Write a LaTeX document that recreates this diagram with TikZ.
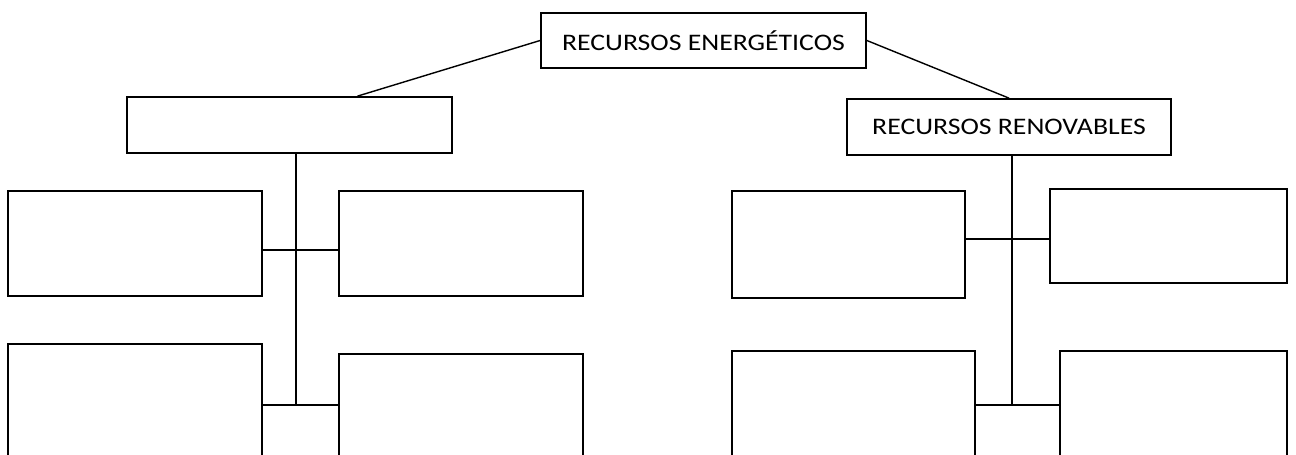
\documentclass[tikz,border=0pt]{standalone}
\usepackage{fontspec}
\setmainfont{Carlito}
\newfontfamily\boxfont[FakeStretch=1.17]{Carlito}
\usetikzlibrary{calc}
\begin{document}
\begin{tikzpicture}
		[x=0.02cm,y=-0.02cm,
			lineDecorate/.style={-,line width=0.8pt},
			boxDecorate/.style={shape=rectangle,draw,line width=1pt,inner sep=0pt,
				font=\boxfont\fontsize{13.5}{15}\selectfont}]
		\path[use as bounding box,clip] (0,0) rectangle (1296,454);
		\foreach \nodename/\x/\y/\w/\h/\txt in {
				top/703.5/40.5/325/55/RECURSOS ENERGÉTICOS,
				rmid/1009/127/324/56/RECURSOS RENOVABLES}
			{
				\node (\nodename) at (\x,\y) [boxDecorate,minimum width=\w*0.02cm,minimum height=\h*0.02cm] {\txt};
			}
		\foreach \nodename/\x/\y/\w/\h in {
				lmid/289.5/125/325/56,
				la/135/243.5/254/105, lb/461/243.5/244/105,
				lc/135/404/254/120, ld/461/414/244/120,
				ra/848.5/244.5/233/107, rb/1168.5/236/237/94,
				rc/853.5/411/243/120, rd/1173.5/411/227/120}
			{
				\node (\nodename) at (\x,\y) [boxDecorate,minimum width=\w*0.02cm,minimum height=\h*0.02cm] {};
			}
		\coordinate (lj1) at (296,250);
		\coordinate (lj2) at (296,405);
		\coordinate (rj1) at (1012,239);
		\coordinate (rj2) at (1012,405);
		\draw[lineDecorate] (top.west) -- ($(lmid.north)+(68,0)$);
		\draw[lineDecorate] (top.east) -- (rmid.north);
		\draw[lineDecorate] (lmid.south -| lj1) -- (lj2);
		\draw[lineDecorate] (rmid.south -| rj1) -- (rj2);
		\foreach \startnode/\endnode/\hub in {la/lb/lj1, lc/ld/lj2, ra/rb/rj1, rc/rd/rj2}
			{
				\draw[lineDecorate] (\startnode.east |- \hub) -- (\endnode.west |- \hub);
			}
	\end{tikzpicture}
\end{document}
